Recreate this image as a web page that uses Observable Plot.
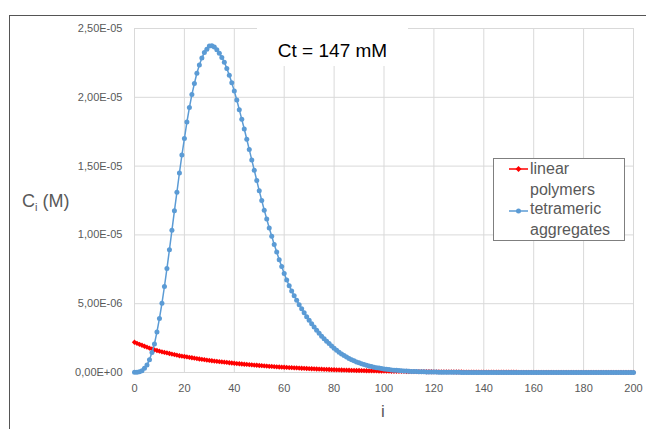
<!DOCTYPE html>
<html><head><meta charset="utf-8">
<script src="https://cdn.jsdelivr.net/npm/d3@7"></script>
<script src="https://cdn.jsdelivr.net/npm/@observablehq/plot@0.6"></script>
<style>
html,body{margin:0;padding:0;background:#fff;}
#wrap{position:relative;width:646px;height:429px;overflow:hidden;font-family:"Liberation Sans",Arial,sans-serif;background:#fff;}
#chart{position:absolute;left:0;top:0;}
#frame{position:absolute;left:9px;top:15px;width:700px;height:500px;border-left:1px solid #555;border-top:1px solid #555;pointer-events:none;}
.lbl{position:absolute;line-height:1;white-space:nowrap;color:#595959;}
#titlebox{position:absolute;left:257px;top:26px;width:151px;height:40px;background:#fff;}
#title{position:absolute;left:0;width:151px;top:14.6px;text-align:center;font-size:19px;line-height:1;color:#000;}
#legend{position:absolute;left:493px;top:158px;width:130px;height:81px;background:#fff;border:1px solid #7f7f7f;}
#legend .t{position:absolute;left:36px;font-size:16px;line-height:1;color:#595959;white-space:nowrap;}
#legend svg{position:absolute;left:0;top:0;}
</style>
</head><body>
<div id="wrap">
  <div id="chart"></div>
  <div id="frame"></div>
  <div id="titlebox"><div id="title"></div></div>
  <div class="lbl" id="ylab" style="left:22px;top:192px;font-size:18px;">C<span style="font-size:11px;position:relative;top:4px;">i</span> (M)</div>
  <div class="lbl" id="xlab" style="left:373px;top:402.5px;width:20px;text-align:center;font-size:17px;">i</div>
  <div id="legend"></div>
</div>
<script>
// ---- data (concentrations in units of 1e-6 M, index i = 0..200) ----
const titleText = "Ct = 147 mM";
const seriesNames = ["linear polymers", "tetrameric aggregates"];
const seriesColors = ["#ff0000", "#5b9bd5"];
const xTicks = [0, 20, 40, 60, 80, 100, 120, 140, 160, 180, 200];
const yTicks = [0, 5e-6, 1e-5, 1.5e-5, 2e-5, 2.5e-5];
const iValues = d3.range(0, 201);

const linearPolymers = [
2.2,2.12,2.05,1.98,1.91,1.84,1.77,1.71,1.65,1.6,
1.55,1.5,1.46,1.42,1.38,1.34,1.3,1.26,1.22,1.19,
1.16,1.13,1.1,1.07,1.04,1.01,0.98,0.955,0.93,0.905,
0.88,0.855,0.83,0.81,0.79,0.77,0.75,0.73,0.71,0.69,
0.67,0.65,0.635,0.62,0.6,0.585,0.57,0.555,0.54,0.525,
0.51,0.495,0.48,0.465,0.45,0.44,0.425,0.415,0.4,0.39,
0.38,0.37,0.36,0.35,0.34,0.33,0.32,0.31,0.3,0.29,
0.28,0.272,0.264,0.256,0.248,0.24,0.232,0.224,0.216,0.208,
0.2,0.194,0.188,0.182,0.176,0.17,0.164,0.158,0.153,0.148,
0.143,0.138,0.133,0.128,0.124,0.12,0.116,0.112,0.108,0.104,
0.1,0.097,0.094,0.091,0.088,0.085,0.082,0.079,0.076,0.074,
0.071,0.069,0.067,0.064,0.062,0.06,0.058,0.056,0.054,0.052,
0.05,0.048,0.047,0.045,0.044,0.042,0.041,0.04,0.038,0.037,
0.036,0.035,0.033,0.032,0.031,0.03,0.029,0.028,0.027,0.026,
0.025,0.024,0.023,0.023,0.022,0.021,0.02,0.02,0.019,0.018,
0.018,0.017,0.017,0.016,0.015,0.015,0.014,0.014,0.013,0.013,
0.012,0.012,0.011,0.011,0.011,0.01,0.01,0.01,0.009,0.009,
0.009,0.008,0.008,0.008,0.007,0.007,0.007,0.007,0.006,0.006,
0.006,0.006,0.005,0.005,0.005,0.005,0.005,0.004,0.004,0.004,
0.004,0.004,0.004,0.003,0.003,0.003,0.003,0.003,0.003,0.003,
0.003];

const tetramericAggregates = [
0.01,0.02,0.05,0.13,0.3,0.55,0.92,1.45,2.08,2.95,
3.93,5.03,6.25,7.55,8.92,10.33,11.75,13.1,14.5,15.8,
17.0,18.2,19.25,20.2,21.0,21.75,22.35,22.85,23.25,23.5,
23.72,23.75,23.65,23.45,23.2,22.9,22.55,22.1,21.6,21.05,
20.45,19.8,19.1,18.4,17.7,16.95,16.2,15.45,14.7,13.95,
13.2,12.5,11.8,11.15,10.5,9.9,9.3,8.75,8.2,7.7,
7.2,6.72,6.3,5.92,5.57,5.25,4.93,4.63,4.34,4.06,
3.8,3.55,3.3,3.07,2.85,2.64,2.45,2.27,2.1,1.93,
1.77,1.62,1.48,1.35,1.23,1.12,1.02,0.93,0.85,0.77,
0.7,0.64,0.58,0.52,0.47,0.43,0.39,0.35,0.32,0.29,
0.26,0.23,0.21,0.19,0.17,0.155,0.14,0.125,0.113,0.1,
0.09,0.081,0.073,0.066,0.059,0.053,0.048,0.043,0.039,0.035,
0.031,0.028,0.025,0.022,0.02,0.018,0.016,0.014,0.013,0.011,
0.01,0.009,0.008,0.007,0.006,0.006,0.005,0.004,0.004,0.003,
0.003,0.003,0.002,0.002,0.002,0.002,0.001,0.001,0.001,0.001,
0.001,0,0,0,0,0,0,0,0,0,
0,0,0,0,0,0,0,0,0,0,
0,0,0,0,0,0,0,0,0,0,
0,0,0,0,0,0,0,0,0,0,
0,0,0,0,0,0,0,0,0,0,
0];

// ---- build tables ----
const linData = iValues.map((i, k) => ({i, c: linearPolymers[k] * 1e-6})).filter(d => !isNaN(d.c));
const tetData = iValues.map((i, k) => ({i, c: tetramericAggregates[k] * 1e-6})).filter(d => !isNaN(d.c));

function fmt(v) {
  if (v === 0) return "0,00E+00";
  const [m, e] = v.toExponential(2).split("e");
  const ei = +e;
  return m.replace(".", ",") + "E" + (ei < 0 ? "-" : "+") + String(Math.abs(ei)).padStart(2, "0");
}

const plot = Plot.plot({
  width: 646, height: 429,
  marginLeft: 134, marginRight: 13, marginTop: 28, marginBottom: 57,
  style: {fontFamily: "'Liberation Sans', Arial, sans-serif", fontSize: "11px", background: "transparent"},
  x: {domain: [0, 200]},
  y: {domain: [0, 2.5e-5]},
  marks: [
    Plot.gridY(yTicks, {stroke: "#d9d9d9", strokeOpacity: 1, strokeWidth: 1}),
    Plot.gridX(xTicks, {stroke: "#d9d9d9", strokeOpacity: 1, strokeWidth: 1}),
    Plot.axisY(yTicks, {tickFormat: fmt, tickSize: 0, tickPadding: 12, fill: "#595959", label: null, fontSize: 11}),
    Plot.axisX(xTicks, {tickSize: 0, tickPadding: 12, fill: "#595959", label: null, fontSize: 11}),
    Plot.line(linData, {x: "i", y: "c", stroke: seriesColors[0], strokeWidth: 1.5}),
    Plot.dot(linData, {x: "i", y: "c", symbol: "diamond2", r: 2.4, fill: seriesColors[0]}),
    Plot.line(tetData, {x: "i", y: "c", stroke: seriesColors[1], strokeWidth: 1.5}),
    Plot.dot(tetData, {x: "i", y: "c", r: 2.5, fill: seriesColors[1]})
  ]
});
document.getElementById("chart").appendChild(plot);
document.getElementById("title").textContent = titleText;

// ---- legend ----
const leg = document.getElementById("legend");
const lines = [["linear", "polymers"], ["tetrameric", "aggregates"]];
const tops = [[2, 23], [42, 63]];
const symY = [10, 52];
let svg = '<svg width="130" height="81">';
svg += `<line x1="15" x2="34" y1="${symY[0]}" y2="${symY[0]}" stroke="${seriesColors[0]}" stroke-width="1.5"/>`;
svg += `<path d="M24.5,${symY[0]-3} L27.5,${symY[0]} L24.5,${symY[0]+3} L21.5,${symY[0]} Z" fill="${seriesColors[0]}"/>`;
svg += `<line x1="15" x2="34" y1="${symY[1]}" y2="${symY[1]}" stroke="${seriesColors[1]}" stroke-width="1.5"/>`;
svg += `<circle cx="24.5" cy="${symY[1]}" r="2.5" fill="${seriesColors[1]}"/>`;
svg += '</svg>';
let html = svg;
lines.forEach((ls, s) => ls.forEach((t, j) => {
  html += `<div class="t" style="top:${tops[s][j]}px">${t}</div>`;
}));
leg.innerHTML = html;
</script>
</body></html>
